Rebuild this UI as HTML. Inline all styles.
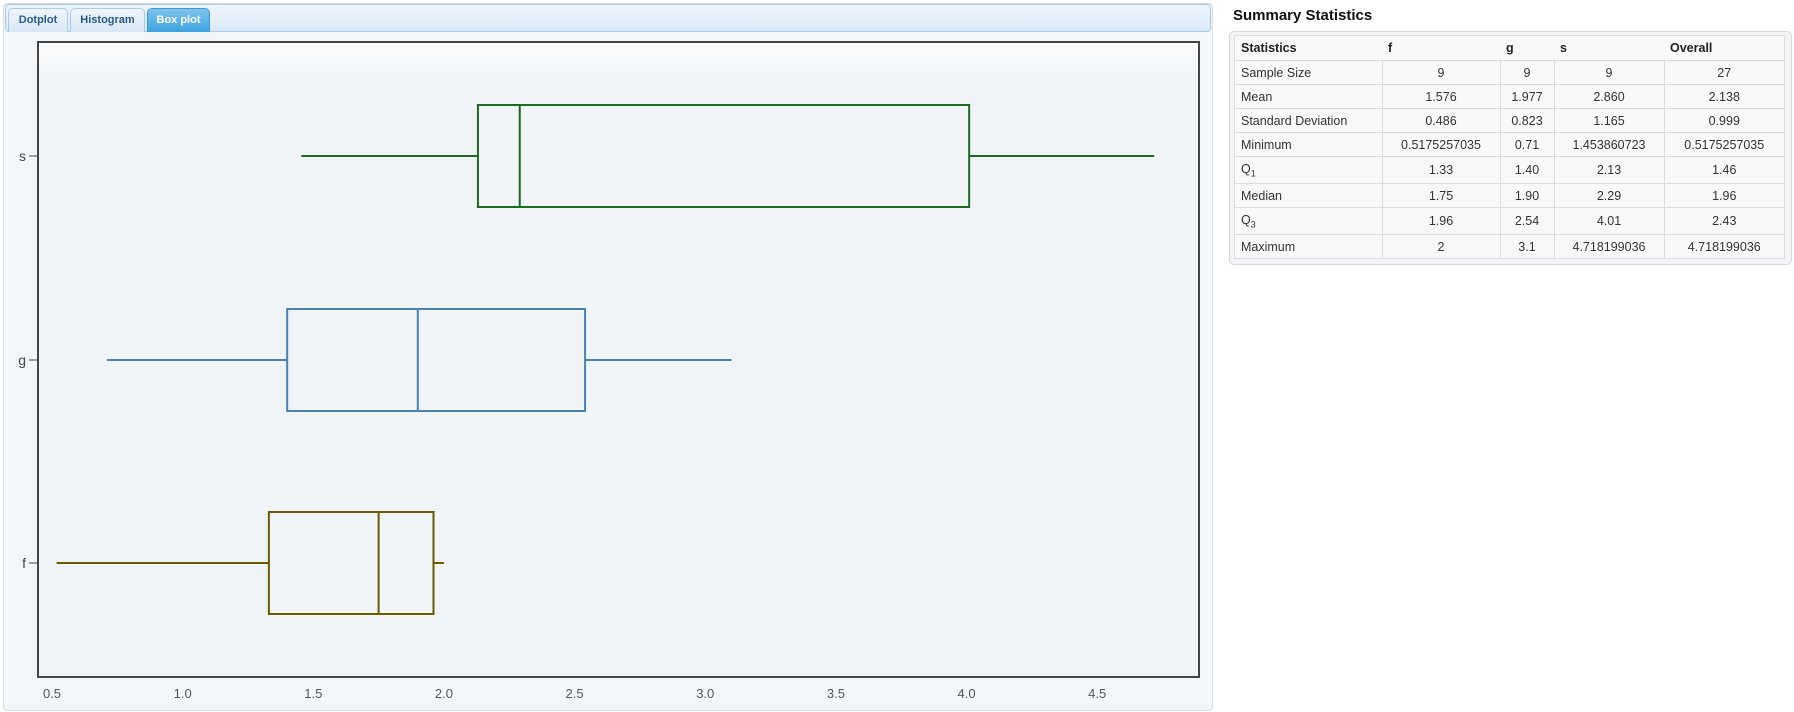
<!DOCTYPE html>
<html><head><meta charset="utf-8">
<style>
body{margin:0;width:1794px;height:712px;background:#fff;font-family:"Liberation Sans",sans-serif;position:relative;overflow:hidden}
#panel{position:absolute;left:3px;top:3px;width:1208px;height:706px;border:1px solid #d4dce3;border-radius:4px;background:#f3f6f9}
#tabbar{position:absolute;left:5px;top:4px;width:1204px;height:26px;border:1px solid #a9cbe8;border-radius:4px;background:linear-gradient(#eef5fc,#dbe9f6)}
.tab{position:absolute;top:8px;height:23px;border:1px solid #a9cbe8;border-bottom:none;border-radius:5px 5px 0 0;background:linear-gradient(#eef5fc,#d8e7f5);font-size:11px;font-weight:bold;color:#2b5a85;text-align:center;line-height:23px}
.tab.active{background:linear-gradient(#7cc4ee,#3da2e0);color:#fff;border-color:#3d98d6}
#chart{position:absolute;left:0;top:0}
#heading{position:absolute;left:1233px;top:7px;font-size:15px;font-weight:bold;color:#111}
#tpanel{position:absolute;left:1229px;top:31px;width:561px;height:232px;border:1px solid #d4d8dc;border-radius:5px;background:#f3f4f6}
table{position:absolute;left:4px;top:3px;border-collapse:collapse;font-size:12.5px;color:#333}
td,th{border:1px solid #dadde0;padding:0 6px;height:23px;text-align:center;background:#f7f8fa;font-weight:normal}
th{text-align:left;font-weight:bold;color:#222;height:24px;border-left:none;border-right:none}
th:first-child{border-left:1px solid #dadde0}
th:last-child{border-right:1px solid #dadde0}
td:first-child{text-align:left}
</style></head><body>
<div id="panel"></div>
<div id="tabbar"></div>
<div class="tab" style="left:8px;width:58px">Dotplot</div>
<div class="tab" style="left:70px;width:73px">Histogram</div>
<div class="tab active" style="left:147px;width:61px">Box plot</div>
<svg id="chart" width="1215" height="712">
<defs><linearGradient id="bg" x1="0" y1="0" x2="0" y2="1"><stop offset="0" stop-color="#fafbfc"/><stop offset="0.06" stop-color="#f0f4f7"/><stop offset="1" stop-color="#f0f4f7"/></linearGradient></defs>
<rect x="38" y="42" width="1161" height="635" fill="url(#bg)" stroke="#444" stroke-width="2"/>
<g id="marks"></g>
</svg>
<div id="heading">Summary Statistics</div>
<div id="tpanel">
<table>
<tr><th style="width:135px">Statistics</th><th style="width:106px">f</th><th style="width:42px">g</th><th style="width:98px">s</th><th style="width:108px">Overall</th></tr>
<tr><td>Sample Size</td><td>9</td><td>9</td><td>9</td><td>27</td></tr>
<tr><td>Mean</td><td>1.576</td><td>1.977</td><td>2.860</td><td>2.138</td></tr>
<tr><td>Standard Deviation</td><td>0.486</td><td>0.823</td><td>1.165</td><td>0.999</td></tr>
<tr><td>Minimum</td><td>0.5175257035</td><td>0.71</td><td>1.453860723</td><td>0.5175257035</td></tr>
<tr><td style="height:26px">Q<sub style="font-size:9px">1</sub></td><td>1.33</td><td>1.40</td><td>2.13</td><td>1.46</td></tr>
<tr><td>Median</td><td>1.75</td><td>1.90</td><td>2.29</td><td>1.96</td></tr>
<tr><td style="height:26px">Q<sub style="font-size:9px">3</sub></td><td>1.96</td><td>2.54</td><td>4.01</td><td>2.43</td></tr>
<tr><td>Maximum</td><td>2</td><td>3.1</td><td>4.718199036</td><td>4.718199036</td></tr>
</table></div>
<script>
const categories=["f","g","s"];
const minVals=[0.5175257035,0.71,1.453860723];
const q1Vals=[1.33,1.40,2.13];
const medVals=[1.75,1.90,2.29];
const q3Vals=[1.96,2.54,4.01];
const maxVals=[2,3.1,4.718199036];
const colors=["#6b5a00","#4682b4","#1d6b1d"];
const xTicks=[0.5,1.0,1.5,2.0,2.5,3.0,3.5,4.0,4.5];
const xs=v=>52+(v-0.5)*261.3;
const yCenters={f:563,g:360,s:156};
const ys=c=>yCenters[c];
const NS="http://www.w3.org/2000/svg";
const g=document.getElementById('marks');
function mk(tag,at,parent){const e=document.createElementNS(NS,tag);for(const k in at)e.setAttribute(k,at[k]);(parent||g).appendChild(e);return e;}
const H=51;
categories.forEach((c,i)=>{
  const y=ys(c),col=colors[i];
  const grp=mk('g',{});
  
  
  mk('line',{x1:xs(minVals[i]),x2:xs(q1Vals[i]),y1:y,y2:y,stroke:col,'stroke-width':2},grp);
  mk('line',{x1:xs(q3Vals[i]),x2:xs(maxVals[i]),y1:y,y2:y,stroke:col,'stroke-width':2},grp);
  mk('rect',{x:xs(q1Vals[i]),y:y-H,width:xs(q3Vals[i])-xs(q1Vals[i]),height:2*H,fill:'none',stroke:col,'stroke-width':2},grp);
  mk('line',{x1:xs(medVals[i]),x2:xs(medVals[i]),y1:y-H,y2:y+H,stroke:col,'stroke-width':2},grp);
  const t=mk('text',{x:26,y:y+5,'font-size':14,fill:'#444','text-anchor':'end','font-family':'Liberation Sans, sans-serif'});
  t.textContent=c;
  
  
  mk('line',{x1:29,x2:37,y1:y,y2:y,stroke:'#444','stroke-width':1});
});
xTicks.forEach(v=>{
  const t=mk('text',{x:xs(v),y:698,'font-size':13,fill:'#555','text-anchor':'middle','font-family':'Liberation Sans, sans-serif'});
  t.textContent=v.toFixed(1);
  
  
});
</script>
</body></html>
